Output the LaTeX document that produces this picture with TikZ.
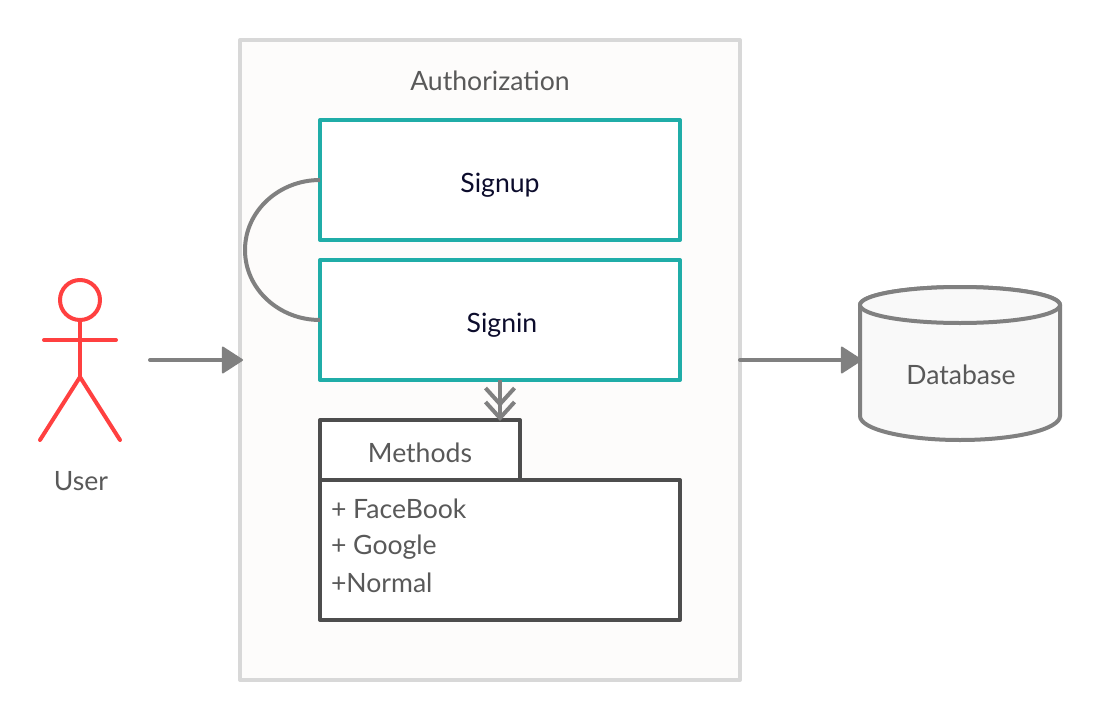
\documentclass[tikz,border=0pt]{standalone}
\usepackage{fontspec}
\setmainfont{Lato}
\usetikzlibrary{arrows.meta}

\definecolor{framegray}{HTML}{D8D8D8}
\definecolor{framefill}{HTML}{FDFCFB}
\definecolor{tealline}{HTML}{20ADA8}
\definecolor{darkline}{HTML}{4D4D4D}
\definecolor{flowgray}{HTML}{808080}
\definecolor{actorred}{HTML}{FF4040}
\definecolor{labelgray}{HTML}{595959}
\definecolor{navytext}{HTML}{0C0C2C}
\definecolor{dbfill}{HTML}{F9F9F9}

\tikzset{
  every node/.style={font=\fontsize{26.6}{30}\selectfont, text=labelgray, inner sep=0pt, outer sep=0pt, line join=round},
  actor/.style={draw=actorred, line width=4pt, line cap=round},
  flow/.style={draw=flowgray, line width=4pt, line cap=round,
    -{Triangle[length=22pt,width=28pt,line join=round,line width=2pt]}, shorten >=-3pt},
  usecase/.style={draw=tealline, line width=4pt, fill=white, text=navytext,
    minimum width=360pt, minimum height=120pt},
  methodbox/.style={draw=darkline, line width=4pt, fill=white},
}

\begin{document}
\begin{tikzpicture}[x=1pt, y=-1pt]
   \useasboundingbox (0,0) rectangle (1100,720);

   % frame
   \node[draw=framegray, fill=framefill, line width=4pt, minimum width=500pt, minimum height=640pt] (auth) at (490,360) {};
   \node (authtitle) at (490,81) {Authorization};

   % use cases
   \node[usecase] (signup) at (500,180) {};
   \node[usecase] (signin) at (500,320) {};
   \node[text=navytext] (signuptext) at (500,185) {Signup};
   \node[text=navytext] (signintext) at (502,325) {Signin};

   % methods
   \node[methodbox, minimum width=200pt, minimum height=60pt] (methods) at (420,450) {};
   \node (methodstext) at (420,453) {Methods};
   \node[methodbox, minimum width=360pt, minimum height=140pt] (methodlist) at (500,550) {};
   \node[anchor=west] (facebook) at (331,509) {+ FaceBook};
   \node[anchor=west] (google) at (331,547) {+ Google};
   \node[anchor=west] (normal) at (331,583) {+Normal};

   % user
   \node[circle, draw=actorred, line width=4pt, minimum size=40pt] (head) at (80,300) {};
   \coordinate (hip) at (80,377);
   \coordinate (armleft) at (44,340);
   \coordinate (armright) at (116,340);
   \coordinate (footleft) at (40,440);
   \coordinate (footright) at (120,440);
   \draw[actor] (head.south) -- (hip);
   \draw[actor] (armleft) -- (armright);
   \draw[actor] (footleft) -- (hip) -- (footright);
   \node (user) at (81,481) {User};

   % database
   \coordinate (dbtopleft) at (860,305);
   \draw[draw=flowgray, fill=dbfill, line width=4pt]
     (dbtopleft) arc[start angle=180, end angle=360, x radius=100pt, y radius=-18pt]
     -- (1060,416) arc[start angle=0, end angle=-180, x radius=100pt, y radius=24pt]
     -- cycle;
   \draw[draw=flowgray, fill=dbfill, line width=4pt] (960,305) ellipse[x radius=100pt, y radius=18pt];
   \node (database) at (961,375) {Database};

   % connectors
   \coordinate (userout) at (150,360);
   \coordinate (dbin) at (859,360);
   \coordinate (bulge) at (245,250);
   \draw[flow] (userout) -- (auth.west);
   \draw[flow] (auth.east) -- (dbin);
   \draw[draw=flowgray, line width=4pt] (signup.west) .. controls +(-41,0) and (245,211) .. (bulge)
     .. controls (245,289) and (279,320) .. (signin.west);
   \coordinate (signinout) at (500,380);
   \coordinate (methodsin) at (500,420);
   \draw[draw=flowgray, line width=4pt, shorten >=-1pt,
     -{Straight Barb[length=16pt,width=29pt,sep=-7pt]Straight Barb[length=16pt,width=29pt]}]
     (signinout) -- (methodsin);
\end{tikzpicture}
\end{document}
